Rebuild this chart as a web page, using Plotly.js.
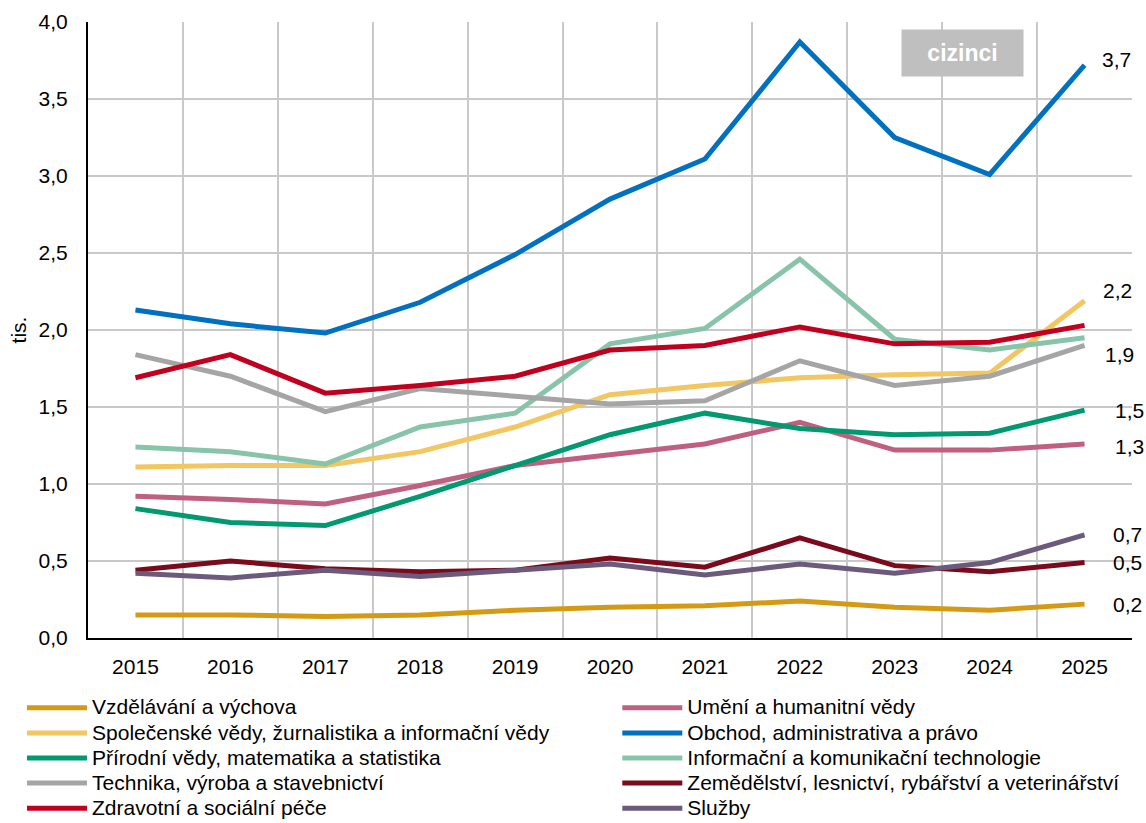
<!DOCTYPE html>
<html>
<head>
<meta charset="utf-8">
<script src="https://cdn.plot.ly/plotly-3.0.1.min.js"></script>
<style>html,body{margin:0;padding:0;background:#fff;}#chart{width:1146px;height:823px;}</style>
</head>
<body>
<div id="chart"></div>
<script>
const years = ['2015','2016','2017','2018','2019','2020','2021','2022','2023','2024','2025'];

const vzdelavani   = [0.15,0.15,0.14,0.15,0.18,0.20,0.21,0.24,0.20,0.18,0.22];
const umeni        = [0.92,0.90,0.87,0.99,1.12,1.19,1.26,1.40,1.22,1.22,1.26];
const spolecenske  = [1.11,1.12,1.12,1.21,1.37,1.58,1.64,1.69,1.71,1.72,2.19];
const obchod       = [2.13,2.04,1.98,2.18,2.49,2.85,3.11,3.87,3.25,3.01,3.72];
const prirodni     = [0.84,0.75,0.73,0.92,1.12,1.32,1.46,1.36,1.32,1.33,1.48];
const ict          = [1.24,1.21,1.13,1.37,1.46,1.91,2.01,2.46,1.94,1.87,1.95];
const technika     = [1.84,1.70,1.47,1.62,1.57,1.52,1.54,1.80,1.64,1.70,1.90];
const zemedelstvi  = [0.44,0.50,0.45,0.43,0.44,0.52,0.46,0.65,0.47,0.43,0.49];
const zdravotni    = [1.69,1.84,1.59,1.64,1.70,1.87,1.90,2.02,1.91,1.92,2.03];
const sluzby       = [0.42,0.39,0.44,0.40,0.44,0.48,0.41,0.48,0.42,0.49,0.67];

const seriesNames = [
  'Vzdělávání a výchova',
  'Umění a humanitní vědy',
  'Společenské vědy, žurnalistika a informační vědy',
  'Obchod, administrativa a právo',
  'Přírodní vědy, matematika a statistika',
  'Informační a komunikační technologie',
  'Technika, výroba a stavebnictví',
  'Zemědělství, lesnictví, rybářství a veterinářství',
  'Zdravotní a sociální péče',
  'Služby'
];
const seriesValues = [vzdelavani, umeni, spolecenske, obchod, prirodni, ict, technika, zemedelstvi, zdravotni, sluzby];

// end labels: series index -> label text
const endLabelSeries = [0, 1, 2, 3, 4, 6, 7, 9];
const endLabelTexts  = ['0,2', '1,3', '2,2', '3,7', '1,5', '1,9', '0,5', '0,7'];

const boxLabel = 'cizinci';
const yTitle = 'tis.';

// styles
const colors = ['#d49a14','#c0607f','#f2c661','#0070c0','#009970','#88c4a9','#a5a5a5','#7b0a1c','#c0001e','#6b5a7b'];
const legendOf = ['legend','legend2','legend','legend2','legend','legend2','legend','legend2','legend','legend2'];
const labelShift = {0:[26,0],1:[28,-3],2:[16,10],3:[15,6],4:[28,0],6:[18,-9],7:[26,0],9:[26,0]};

const FONT = 'Arial, "Liberation Sans", sans-serif';
const FS = 21;

const traces = seriesValues.map((vals, i) => ({
  type: 'scatter',
  mode: 'lines',
  x: years,
  y: vals,
  name: '<span style="font-size:' + FS + 'px">' + seriesNames[i] + '</span>',
  legend: legendOf[i],
  line: {color: colors[i], width: 5},
  hoverinfo: 'skip'
}));

const lastIdx = years.length - 1;
const annotations = endLabelSeries.map((si, k) => ({
  x: lastIdx,
  y: seriesValues[si][lastIdx],
  xref: 'x', yref: 'y',
  text: endLabelTexts[k],
  showarrow: false,
  xanchor: 'left',
  yanchor: 'middle',
  xshift: labelShift[si][0],
  yshift: labelShift[si][1],
  font: {family: FONT, size: FS, color: '#000'}
}));

annotations.push({
  x: 0.838, y: 0.950, xref: 'paper', yref: 'paper',
  text: '<b>' + boxLabel + '</b>',
  showarrow: false,
  xanchor: 'center', yanchor: 'middle',
  width: 121, height: 46,
  bgcolor: '#bfbfbf',
  borderpad: 0,
  font: {family: FONT, size: 23, color: '#ffffff'}
});

const legendFont = {family: FONT, size: 17, color: '#000'};

const layout = {
  width: 1146,
  height: 823,
  margin: {l: 88, r: 14, t: 22, b: 185, autoexpand: false},
  paper_bgcolor: '#ffffff',
  plot_bgcolor: '#ffffff',
  separators: ', ',
  font: {family: FONT, size: FS, color: '#000'},
  showlegend: true,
  xaxis: {
    type: 'category',
    tickson: 'boundaries',
    showgrid: true,
    gridcolor: '#c9c9c9',
    gridwidth: 2,
    showline: true,
    linecolor: '#000',
    linewidth: 2,
    ticks: '',
    ticklabelstandoff: 9,
    tickfont: {family: FONT, size: FS, color: '#000'},
    range: [-0.5, 10.5],
    zeroline: false,
    fixedrange: true
  },
  yaxis: {
    range: [0, 4],
    dtick: 0.5,
    tick0: 0,
    tickformat: '.1f',
    showgrid: true,
    gridcolor: '#c9c9c9',
    gridwidth: 2,
    showline: true,
    linecolor: '#000',
    linewidth: 2,
    ticks: '',
    ticklabelstandoff: 14,
    zeroline: false,
    tickfont: {family: FONT, size: FS, color: '#000'},
    title: {text: yTitle, font: {family: FONT, size: FS, color: '#000'}, standoff: 6},
    fixedrange: true
  },
  legend: {
    x: -0.0632, y: -0.0848, xanchor: 'left', yanchor: 'top',
    orientation: 'v',
    itemwidth: 60,
    font: legendFont,
    bgcolor: 'rgba(0,0,0,0)',
    traceorder: 'normal'
  },
  legend2: {
    x: 0.507, y: -0.0848, xanchor: 'left', yanchor: 'top',
    orientation: 'v',
    itemwidth: 60,
    font: legendFont,
    bgcolor: 'rgba(0,0,0,0)',
    traceorder: 'normal'
  },
  annotations: annotations
};

Plotly.newPlot('chart', traces, layout, {displayModeBar: false, staticPlot: true});
</script>
</body>
</html>
